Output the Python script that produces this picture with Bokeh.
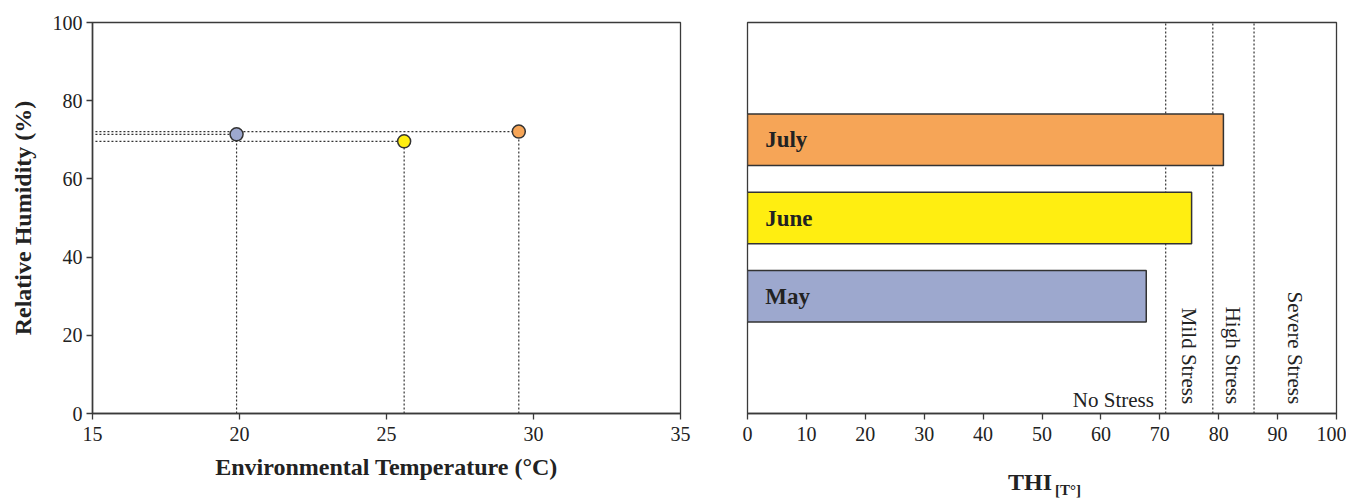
import math
from bokeh.plotting import figure
from bokeh.layouts import row, column
from bokeh.models import FixedTicker, Div
from bokeh.core.properties import value
from bokeh.embed import file_html
from bokeh.resources import INLINE

# ---- data ----
months = ["May", "June", "July"]
temperature = [19.9, 25.6, 29.5]      # °C
humidity = [71.4, 69.6, 72.1]         # %
thi = [67.7, 75.4, 80.8]              # THI
month_colors = ["#9DA8CE", "#FFEE11", "#F6A557"]
thresholds = [71, 79, 86]
no_stress_label = "No Stress"
stress_labels = ["Mild Stress", "High Stress", "Severe Stress"]
temp_ticks = [15, 20, 25, 30, 35]
hum_ticks = [0, 20, 40, 60, 80, 100]
thi_ticks = [0, 10, 20, 30, 40, 50, 60, 70, 80, 90, 100]

FONT = "Liberation Serif"
AX = "#3a3a3a"
TXT = "#222222"


def style_axes(p):
    p.xgrid.visible = False
    p.ygrid.visible = False
    p.outline_line_color = AX
    p.outline_line_width = 1.3
    p.background_fill_color = "white"
    p.border_fill_color = "white"
    for ax in (p.xaxis, p.yaxis):
        ax.axis_line_color = AX
        ax.axis_line_width = 1.5
        ax.major_tick_line_color = AX
        ax.major_tick_line_width = 1.3
        ax.major_tick_out = 6
        ax.major_tick_in = 0
        ax.minor_tick_line_color = None
        ax.major_label_text_font = FONT
        ax.major_label_text_font_size = "20px"
        ax.major_label_text_color = TXT
        ax.axis_label_text_font = FONT
        ax.axis_label_text_font_size = "24px"
        ax.axis_label_text_font_style = "bold"
        ax.axis_label_text_color = TXT


# ---- left: temperature vs humidity ----
p1 = figure(width=710, height=502, x_range=(15, 35), y_range=(0, 100),
            output_backend="svg", toolbar_location=None,
            min_border_left=92, min_border_right=30,
            min_border_top=22, min_border_bottom=89)
style_axes(p1)
p1.xaxis.ticker = FixedTicker(ticks=temp_ticks)
p1.yaxis.ticker = FixedTicker(ticks=hum_ticks)
p1.xaxis.major_label_standoff = 7
p1.yaxis.major_label_standoff = 4
p1.xaxis.axis_label = "Environmental Temperature (°C)"
p1.yaxis.axis_label = "Relative Humidity (%)"
p1.xaxis.axis_label_standoff = 10
p1.yaxis.axis_label_standoff = 14

p1.segment(x0=[15.1] * len(temperature), y0=humidity, x1=temperature, y1=humidity,
           line_color="#333333", line_width=1.2, line_dash="2 2")
p1.segment(x0=temperature, y0=[0] * len(temperature), x1=temperature, y1=humidity,
           line_color="#333333", line_width=1.2, line_dash="2 2")
p1.scatter(temperature, humidity, size=13, fill_color=month_colors,
           line_color="#333333", line_width=1.5)

# ---- right: THI bars ----
n = len(months)
p2 = figure(width=636, height=468, x_range=(0, 100), y_range=(0, n + 2),
            output_backend="svg", toolbar_location=None,
            min_border_left=37, min_border_right=10,
            min_border_top=22, min_border_bottom=55)
style_axes(p2)
p2.yaxis.visible = False
p2.xaxis.ticker = FixedTicker(ticks=thi_ticks)
p2.xaxis.major_label_standoff = 7

bar_y = [i + 1.5 for i in range(n)]
p2.segment(x0=thresholds, y0=[0] * len(thresholds), x1=thresholds,
           y1=[n + 2] * len(thresholds),
           line_color="#333333", line_width=1.2, line_dash="2 2")
p2.hbar(y=bar_y, left=0, right=thi, height=0.66, fill_color=month_colors,
        line_color="#333333", line_width=1.5)
p2.text(x=[3] * n, y=bar_y, text=months, text_font=value(FONT),
        text_font_style="bold", text_font_size="23px", text_color=TXT,
        text_baseline="middle", text_align="left")

bounds = thresholds + [100]
mids = [(bounds[i] + bounds[i + 1]) / 2 for i in range(len(thresholds))]
p2.text(x=[thresholds[0] - 2], y=[0.17], text=[no_stress_label], text_font=value(FONT),
        text_font_size="21px", text_color=TXT, text_align="right",
        text_baseline="alphabetic")
p2.text(x=mids, y=[0.12] * len(mids), text=stress_labels, text_font=value(FONT),
        text_font_size="21px", text_color=TXT, text_align="right",
        text_baseline="middle", angle=-math.pi / 2)

thi_label = Div(
    text=('<div style="margin-left:293px; position:relative; top:-4px; white-space:nowrap; '
          'font-family:\'Liberation Serif\', serif; color:#222222; line-height:26px;">'
          '<b style="font-size:24px;">THI</b> '
          '<b style="font-size:15px; position:relative; top:5px;">[T°]</b></div>'),
    width=636, height=34)

layout = row(p1, column(p2, thi_label))
open("out.html", "w").write(file_html(layout, INLINE))
